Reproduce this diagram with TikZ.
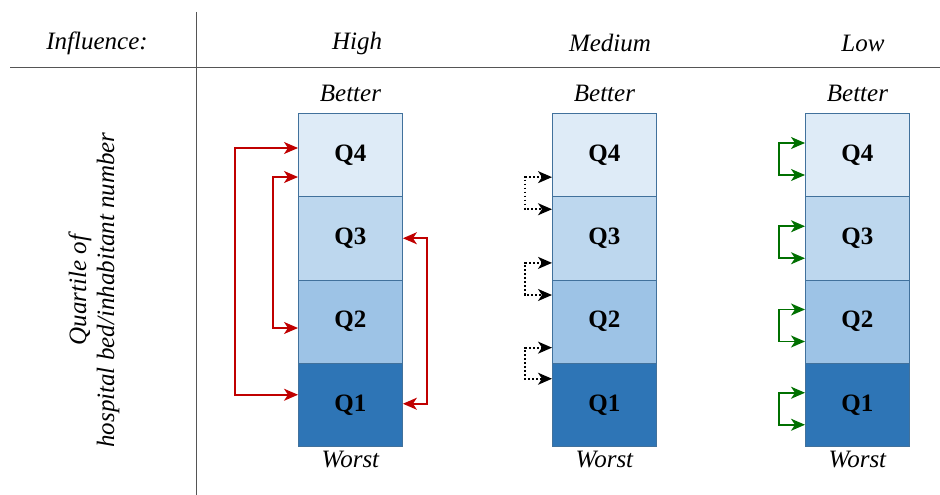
\documentclass[tikz,border=0pt]{standalone}
\usepackage{fontspec}
\setmainfont{Liberation Serif}
\newfontfamily\figserif{Liberation Serif}
\usetikzlibrary{arrows.meta,calc}

\definecolor{qfour}{HTML}{DEEBF7}
\definecolor{qthree}{HTML}{BDD7EE}
\definecolor{qtwo}{HTML}{9DC3E6}
\definecolor{qone}{HTML}{2E75B6}
\definecolor{qedge}{HTML}{41719C}
\definecolor{linkred}{HTML}{C00000}
\definecolor{linkgreen}{HTML}{007000}
\definecolor{rule}{HTML}{555555}

\tikzset{
  quart/.style={draw=qedge, line width=0.9pt, minimum width=104pt, minimum height=83.25pt,
    inner sep=0pt, font=\figserif\fontsize{25}{27}\selectfont\bfseries, text=black, anchor=north west},
  lab/.style={font=\figserif\fontsize{25}{28}\selectfont\itshape, inner sep=0pt},
  headtip/.tip={Stealth[length=14pt,width=12pt,inset=4pt]},
  redlink/.style={draw=linkred, line width=1.8pt, headtip-headtip},
  greenlink/.style={draw=linkgreen, line width=1.8pt, headtip-headtip},
  dotlink/.style={draw=black, line width=1.8pt, dash pattern=on 1.8pt off 2.2pt, headtip-headtip},
  tablerule/.style={draw=rule, line width=1pt}
}

\begin{document}
\begin{tikzpicture}[x=1pt,y=-1pt]
  \useasboundingbox (0,0) rectangle (940,495);

  % table rules
  \coordinate (vtop) at (196,12);
  \coordinate (vbot) at (196,495);
  \coordinate (hl) at (10,68);
  \coordinate (hr) at (940,68);
  \draw[tablerule] (vtop) -- (vbot);
  \draw[tablerule] (hl) -- (hr);

  % header row
  \node[lab] (infl) at (97,43) {Influence:};
  \node[lab] (hhigh) at (357,43) {High};
  \node[lab] (hmed) at (610,43) {Medium};
  \node[lab] (hlow) at (863,43) {Low};

  % row label
  \node[lab, rotate=90, align=center] (rowlab) at (94,290)
    {Quartile of\\hospital bed/inhabitant number};

  % quartile stacks
  \foreach \c/\x in {h/298, m/552, l/805} {
    \node[quart, fill=qfour]  (\c4) at (\x,113) {Q4};
    \node[quart, fill=qthree] (\c3) at (\x,196.25) {Q3};
    \node[quart, fill=qtwo]   (\c2) at (\x,279.5) {Q2};
    \node[quart, fill=qone]   (\c1) at (\x,362.75) {Q1};
    \node[lab, anchor=base] (\c better) at ($(\c4.north)+(0,-11)$) {Better};
    \node[lab, anchor=base] (\c worst) at ($(\c1.south)+(0,21)$) {Worst};
  }

  % high influence: long jumps between quartiles
  \draw[redlink] ([yshift=-35pt]h4.north west) -- ++(-63,0) |- ([yshift=-32pt]h1.north west);
  \draw[redlink] ([yshift=-64pt]h4.north west) -- ++(-25,0) |- ([yshift=-48.5pt]h2.north west);
  \draw[redlink] ([yshift=-42pt]h3.north east) -- ++(24,0) |- ([yshift=-41pt]h1.north east);

  % medium influence: neighbouring quartiles
  \draw[dotlink] ([yshift=20pt]m4.south west) -- ++(-27,0) |- ([yshift=-13pt]m3.north west);
  \draw[dotlink] ([yshift=17.5pt]m3.south west) -- ++(-27,0) |- ([yshift=-15.5pt]m2.north west);
  \draw[dotlink] ([yshift=16pt]m2.south west) -- ++(-27,0) |- ([yshift=-16pt]m1.north west);

  % low influence: within the same quartile
  \foreach \q in {4,3,2,1} {
    \draw[greenlink] ([yshift=-30pt]l\q.north west) -- ++(-26,0) |- ([yshift=-62pt]l\q.north west);
  }
\end{tikzpicture}
\end{document}
